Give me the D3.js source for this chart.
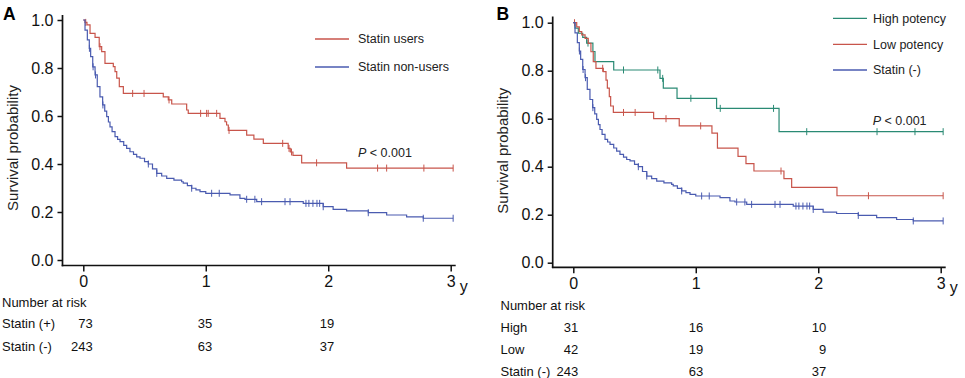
<!DOCTYPE html>
<html>
<head>
<meta charset="utf-8">
<script src="https://cdn.jsdelivr.net/npm/d3@7"></script>
<style>
  html, body { margin: 0; padding: 0; background: #fff; }
  svg { display: block; font-family: "Liberation Sans", Arial, Helvetica, sans-serif; }
</style>
</head>
<body>
<svg id="chart" width="965" height="378"></svg>
<script>
// ---------------- data ----------------
const timeTicks = [0, 1, 2, 3];
const survTicks = [0, 0.2, 0.4, 0.6, 0.8, 1.0];
const riskTimes = [0, 1, 2];

// Statin users (panel A, red)
const usersT = [0, 0.014, 0.03, 0.055, 0.096, 0.13, 0.15, 0.177, 0.245, 0.259, 0.273, 0.294, 0.327, 0.653, 0.694, 0.722, 0.844, 0.857, 1.116, 1.157, 1.17, 1.184, 1.334, 1.393, 1.47, 1.673, 1.69, 1.712, 1.783, 2.15];
const usersS = [1, 0.99, 0.98, 0.944, 0.928, 0.889, 0.868, 0.819, 0.806, 0.785, 0.758, 0.722, 0.694, 0.68, 0.667, 0.65, 0.625, 0.611, 0.59, 0.576, 0.5625, 0.54, 0.52, 0.504, 0.486, 0.465, 0.45, 0.436, 0.405, 0.383];
const usersCensor = [0.02, 0.136, 0.403, 0.496, 0.70, 0.958, 1.007, 1.02, 1.089, 1.19, 1.628, 1.68, 1.70, 1.905, 2.403, 2.477, 2.781, 3.02];

// Statin non-users / Statin (-) (blue, both panels)
const nonUsersT = [0, 0.014, 0.033, 0.049, 0.06, 0.077, 0.096, 0.114, 0.136, 0.158, 0.175, 0.191, 0.205, 0.218, 0.235, 0.259, 0.28, 0.3, 0.33, 0.354, 0.381, 0.41, 0.436, 0.463, 0.5, 0.531, 0.565, 0.6, 0.64, 0.681, 0.74, 0.803, 0.816, 0.85, 0.885, 0.92, 0.953, 1.0, 1.198, 1.279, 1.32, 1.416, 1.796, 1.959, 2.04, 2.15, 2.327, 2.477, 2.64, 2.776];
const nonUsersS = [1, 0.958, 0.917, 0.882, 0.847, 0.805, 0.771, 0.722, 0.68, 0.646, 0.62, 0.597, 0.575, 0.555, 0.535, 0.514, 0.503, 0.493, 0.478, 0.465, 0.451, 0.44, 0.43, 0.424, 0.41, 0.40, 0.38, 0.361, 0.35, 0.34, 0.333, 0.326, 0.32, 0.31, 0.299, 0.292, 0.285, 0.278, 0.271, 0.257, 0.253, 0.243, 0.236, 0.222, 0.211, 0.205, 0.197, 0.1875, 0.18, 0.174];
const nonUsersCensor = [0.05, 0.08, 0.1, 0.16, 0.531, 0.6, 0.885, 1.048, 1.11, 1.334, 1.401, 1.456, 1.647, 1.688, 1.818, 1.842, 1.875, 1.908, 1.93, 1.959, 2.327, 2.776, 3.02];

// High potency (panel B, teal)
const highT = [0, 0.014, 0.041, 0.077, 0.109, 0.16, 0.177, 0.33, 0.708, 0.735, 0.847, 1.17, 1.68];
const highS = [1, 0.977, 0.956, 0.939, 0.915, 0.88, 0.8375, 0.803, 0.768, 0.727, 0.685, 0.643, 0.546];
const highCensor = [0.12, 0.41, 0.69, 0.73, 0.96, 1.2, 1.635, 1.906, 2.48, 2.79, 3.02];

// Low potency (panel B, red)
const lowT = [0, 0.028, 0.049, 0.069, 0.096, 0.122, 0.144, 0.163, 0.185, 0.245, 0.267, 0.278, 0.294, 0.305, 0.327, 0.656, 0.865, 1.132, 1.177, 1.345, 1.41, 1.475, 1.72, 1.783, 2.153];
const lowS = [1, 0.983, 0.9625, 0.949, 0.935, 0.914, 0.879, 0.8375, 0.81, 0.796, 0.761, 0.727, 0.692, 0.653, 0.626, 0.6, 0.57, 0.54, 0.477, 0.443, 0.4125, 0.382, 0.35, 0.314, 0.279];
const lowCensor = [0.01, 0.24, 0.41, 0.505, 0.757, 1.04, 1.696, 2.41, 3.02];

// Number at risk
const riskLabelsA = ["Statin (+)", "Statin (-)"];
const riskValuesA = [[73, 35, 19], [243, 63, 37]];
const riskLabelsB = ["High", "Low", "Statin (-)"];
const riskValuesB = [[31, 16, 10], [42, 19, 9], [243, 63, 37]];

const legendA = ["Statin users", "Statin non-users"];
const legendB = ["High potency", "Low potency", "Statin (-)"];

// ---------------- styling ----------------
const RED = "#c8554b", BLUE = "#4a5bb0", TEAL = "#2a8a74";
const svg = d3.select("#chart");

function stepAt(T, S, t) {
  let s = S[0];
  for (let i = 0; i < T.length; i++) { if (T[i] <= t) s = S[i]; }
  return s;
}

function drawPanel(cfg) {
  const g = svg.append("g");
  const x = d3.scaleLinear().domain([0, 3]).range(cfg.xr);
  const y = d3.scaleLinear().domain([0, 1]).range(cfg.yr);

  // y axis
  const ya = g.append("g").attr("transform", `translate(${cfg.axisX},0)`)
    .call(d3.axisLeft(y).tickValues(survTicks).tickFormat(d3.format(".1f")).tickSize(5).tickPadding(4));
  ya.select(".domain").remove();
  ya.selectAll("text").attr("font-size", 16).attr("fill", "#111").attr("font-family", "Liberation Sans, Arial, sans-serif");
  ya.selectAll("line").attr("stroke", "#111").attr("stroke-width", 1.5);
  g.append("line").attr("x1", cfg.axisX).attr("x2", cfg.axisX)
    .attr("y1", cfg.axisTop).attr("y2", cfg.axisY + 0.8)
    .attr("stroke", "#111").attr("stroke-width", 1.7);

  // x axis
  const xa = g.append("g").attr("transform", `translate(0,${cfg.axisY})`)
    .call(d3.axisBottom(x).tickValues(timeTicks).tickFormat(d3.format("d")).tickSize(6).tickPadding(4.5));
  xa.select(".domain").remove();
  xa.selectAll("text").attr("font-size", 16).attr("fill", "#111").attr("font-family", "Liberation Sans, Arial, sans-serif");
  xa.selectAll("line").attr("stroke", "#111").attr("stroke-width", 1.5);
  g.append("line").attr("x1", cfg.axisX - 0.8).attr("x2", x(3) + 5)
    .attr("y1", cfg.axisY).attr("y2", cfg.axisY)
    .attr("stroke", "#111").attr("stroke-width", 1.7);
  g.append("text").attr("x", x(3) + 9).attr("y", cfg.axisY + 26)
    .attr("font-size", 16).attr("fill", "#111").text("y");

  // y title
  g.append("text")
    .attr("transform", `translate(${cfg.axisX - 45},${(y(0) + y(1)) / 2 + 8}) rotate(-90)`)
    .attr("text-anchor", "middle").attr("font-size", 15).attr("fill", "#222")
    .text("Survival probability");

  // panel letter
  g.append("text").attr("x", cfg.letterX).attr("y", 19.5)
    .attr("font-size", 17.5).attr("font-weight", "bold").attr("fill", "#000").text(cfg.letter);

  // curves
  const line = d3.line().x(d => x(d[0])).y(d => y(d[1])).curve(d3.curveStepAfter);
  cfg.series.forEach(s => {
    const pts = s.T.map((t, i) => [t, s.S[i]]);
    const tEnd = d3.max(s.C);
    pts.push([tEnd, s.S[s.S.length - 1]]);
    g.append("path").attr("d", line(pts)).attr("fill", "none")
      .attr("stroke", s.color).attr("stroke-width", 1.2);
    g.append("g").selectAll("line").data(s.C).join("line")
      .attr("x1", d => x(d)).attr("x2", d => x(d))
      .attr("y1", d => y(stepAt(s.T, s.S, d)) - 3.5)
      .attr("y2", d => y(stepAt(s.T, s.S, d)) + 3.5)
      .attr("stroke", s.color).attr("stroke-width", 1);
  });

  // legend
  cfg.legend.forEach((name, i) => {
    const ly = cfg.legY[i];
    g.append("line").attr("x1", cfg.legX).attr("x2", cfg.legX + 34)
      .attr("y1", ly).attr("y2", ly).attr("stroke", cfg.series[i].color).attr("stroke-width", 1.3);
    g.append("text").attr("x", cfg.legX + cfg.legGap).attr("y", ly + 4.3)
      .attr("font-size", 12.5).attr("fill", "#222").text(name);
  });

  // P value
  const pt = g.append("text").attr("x", cfg.pX).attr("y", cfg.pY)
    .attr("font-size", 12.5).attr("fill", "#222");
  pt.append("tspan").attr("font-style", "italic").text("P");
  pt.append("tspan").text(" < 0.001");

  // risk table
  g.append("text").attr("x", cfg.riskX).attr("y", cfg.riskY[0])
    .attr("font-size", 13).attr("fill", "#111").text("Number at risk");
  cfg.riskLabels.forEach((lab, r) => {
    const ry = cfg.riskY[r + 1];
    g.append("text").attr("x", cfg.riskX).attr("y", ry)
      .attr("font-size", 13).attr("fill", "#111").text(lab);
    riskTimes.forEach((t, c) => {
      g.append("text").attr("x", x(t) + cfg.riskOff[c]).attr("y", ry)
        .attr("text-anchor", "end").attr("font-size", 13).attr("fill", "#111")
        .text(cfg.riskValues[r][c]);
    });
  });
}

drawPanel({
  letter: "A", letterX: 3,
  xr: [83.3, 450.7], yr: [260, 20], axisX: 62.5, axisY: 265.5, axisTop: 15,
  series: [
    { T: usersT, S: usersS, C: usersCensor, color: RED },
    { T: nonUsersT, S: nonUsersS, C: nonUsersCensor, color: BLUE }
  ],
  legend: legendA, legX: 315, legGap: 43, legY: [39, 67],
  pX: 358, pY: 157,
  riskX: 2, riskY: [307, 328, 350.5],
  riskLabels: riskLabelsA, riskValues: riskValuesA, riskOff: [9.5, 6.5, 6]
});

drawPanel({
  letter: "B", letterX: 496.5,
  xr: [573.3, 940.7], yr: [262.7, 22.7], axisX: 552.7, axisY: 267.3, axisTop: 16.5,
  series: [
    { T: highT, S: highS, C: highCensor, color: TEAL },
    { T: lowT, S: lowS, C: lowCensor, color: RED },
    { T: nonUsersT, S: nonUsersS, C: nonUsersCensor, color: BLUE }
  ],
  legend: legendB, legX: 833, legGap: 40, legY: [18.3, 44.3, 70],
  pX: 872.7, pY: 125,
  riskX: 500.5, riskY: [310, 331.5, 354, 375.5],
  riskLabels: riskLabelsB, riskValues: riskValuesB, riskOff: [5, 7.5, 8]
});
</script>
</body>
</html>
